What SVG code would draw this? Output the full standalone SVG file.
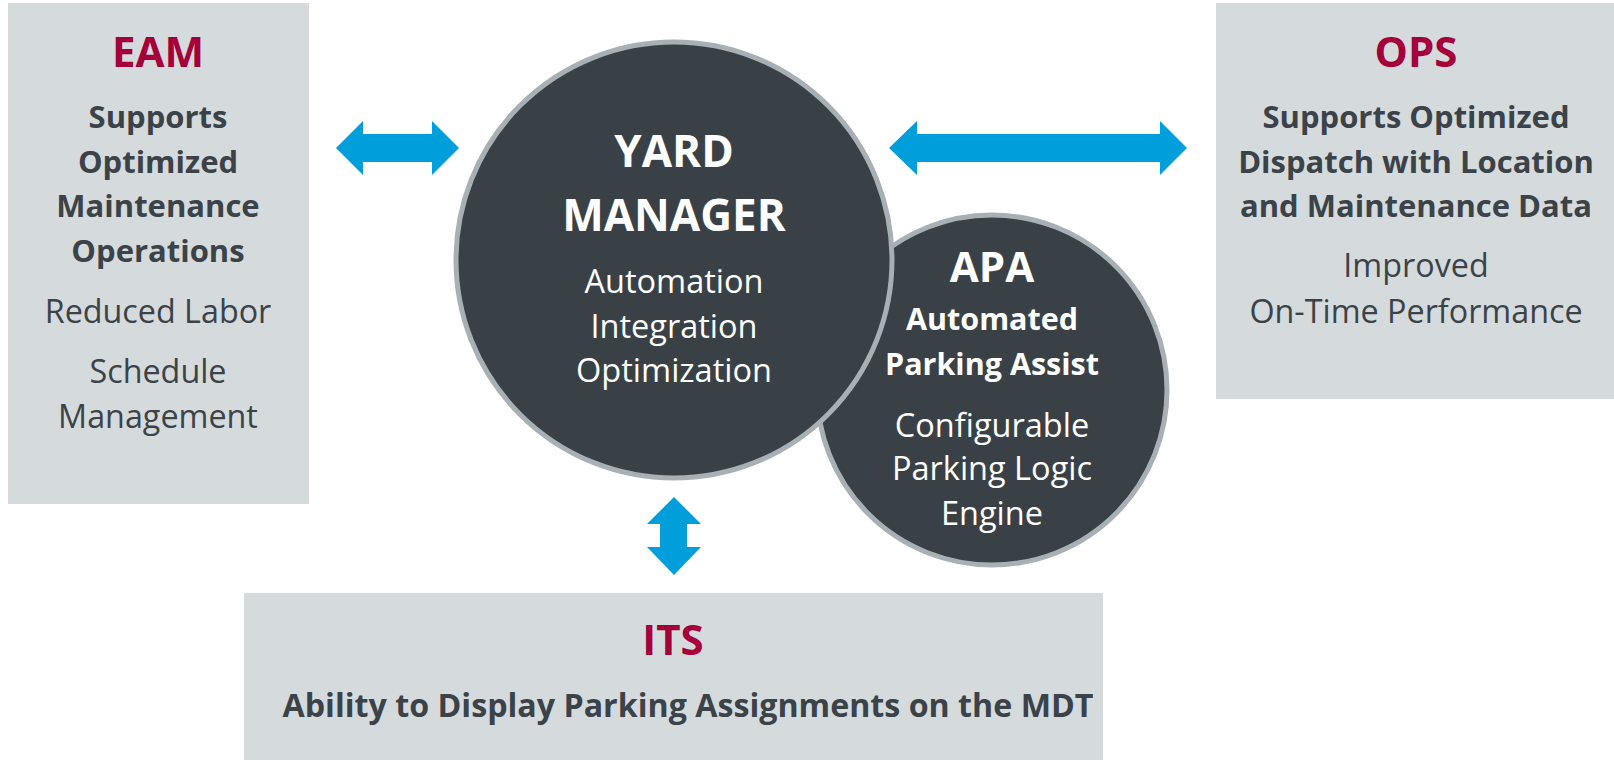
<svg xmlns="http://www.w3.org/2000/svg" width="1614" height="760" viewBox="0 0 1614 760">
<style>
  .box { fill: #D5DADD; }
  .circ { fill: #394147; stroke: #A7B0B5; stroke-width: 5; }
  .arrow { fill: #009FDB; }
  text { font-family: "Open Sans", "Noto Sans", "Liberation Sans", sans-serif; text-anchor: middle; }
  .title { fill: #A5003A; font-weight: 700; font-size: 42px; }
  .sub { fill: #3B4248; font-weight: 700; font-size: 31px; }
  .body { fill: #3B4248; font-weight: 400; font-size: 32.3px; }
  .wtitle { fill: #FFFFFF; font-weight: 700; font-size: 44px; }
  .wsub { fill: #FFFFFF; font-weight: 700; font-size: 30.5px; }
  .wbody { fill: #FFFFFF; font-weight: 400; font-size: 32.5px; }
</style>
<rect width="1614" height="760" fill="#FFFFFF"/>

<g id="eam">
  <rect class="box" x="8" y="3" width="301" height="501"/>
  <text class="title" x="158" y="67">EAM</text>
  <text class="sub" x="158" y="128">Supports</text>
  <text class="sub" x="158" y="173">Optimized</text>
  <text class="sub" x="158" y="217">Maintenance</text>
  <text class="sub" x="158" y="262">Operations</text>
  <text class="body" x="158" y="323">Reduced Labor</text>
  <text class="body" x="158" y="383">Schedule</text>
  <text class="body" x="158" y="428">Management</text>
</g>

<g id="ops">
  <rect class="box" x="1216" y="3" width="398" height="396"/>
  <text class="title" x="1416" y="67">OPS</text>
  <text class="sub" x="1416" y="128">Supports Optimized</text>
  <text class="sub" x="1416" y="173">Dispatch with Location</text>
  <text class="sub" x="1416" y="217">and Maintenance Data</text>
  <text class="body" x="1416" y="277">Improved</text>
  <text class="body" x="1416" y="323">On-Time Performance</text>
</g>

<g id="its">
  <rect class="box" x="244" y="593" width="859" height="167"/>
  <text class="title" x="673" y="655">ITS</text>
  <text class="sub" x="688" y="717" style="font-size:32.2px">Ability to Display Parking Assignments on the MDT</text>
</g>

<g id="apa">
  <circle class="circ" cx="992" cy="390" r="175"/>
  <text class="wtitle" x="992" y="282" style="font-size:42px">APA</text>
  <text class="wsub" x="992" y="330">Automated</text>
  <text class="wsub" x="992" y="375">Parking Assist</text>
  <text class="wbody" x="992" y="437">Configurable</text>
  <text class="wbody" x="992" y="480">Parking Logic</text>
  <text class="wbody" x="992" y="525">Engine</text>
</g>

<g id="yard-manager">
  <circle class="circ" cx="674" cy="260" r="218"/>
  <text class="wtitle" x="674" y="167">YARD</text>
  <text class="wtitle" x="674" y="231">MANAGER</text>
  <text class="wbody" x="674" y="293">Automation</text>
  <text class="wbody" x="674" y="338">Integration</text>
  <text class="wbody" x="674" y="382">Optimization</text>
</g>

<g id="connectors">
  <polygon class="arrow" points="336,148 363,121 363,134 432,134 432,121 459,148 432,175 432,162 363,162 363,175"/>
  <polygon class="arrow" points="889,148 917,121 917,134 1160,134 1160,121 1187,148 1160,175 1160,162 917,162 917,175"/>
  <polygon class="arrow" points="674,497 701,524 687,524 687,547 701,547 674,575 647,547 660,547 660,524 647,524"/>
</g>
</svg>
